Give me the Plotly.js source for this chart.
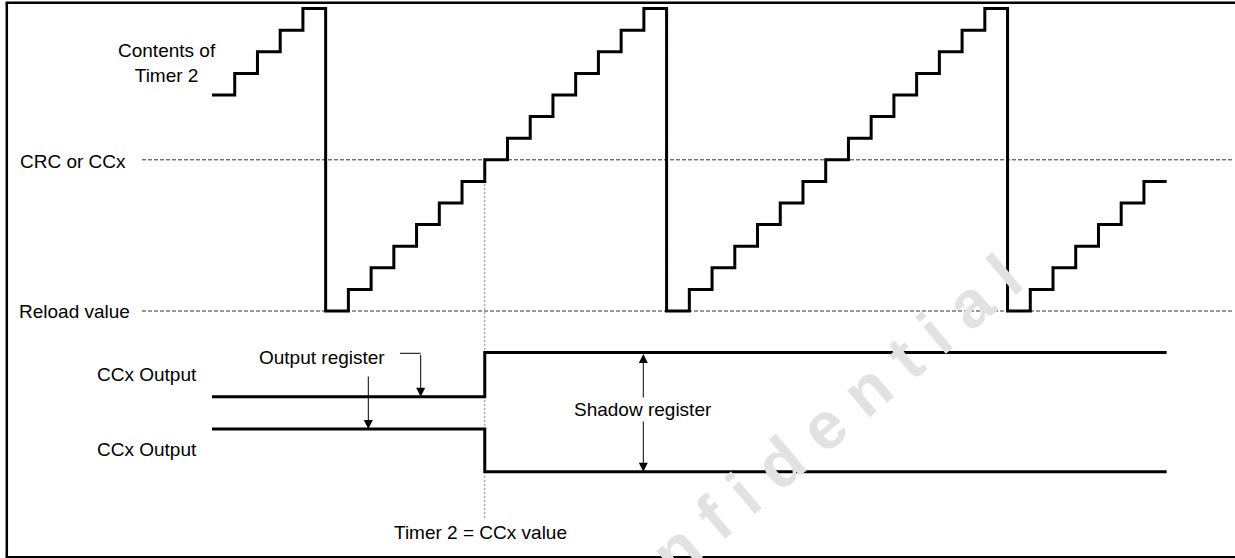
<!DOCTYPE html>
<html>
<head>
<meta charset="utf-8">
<script src="https://cdn.plot.ly/plotly-3.0.1.min.js"></script>
<style>
  html, body { margin: 0; padding: 0; background: #ffffff; }
  #chart { width: 1235px; height: 558px; }
</style>
</head>
<body>
<div id="chart"></div>
<script>
// ---------------- data ----------------
// Contents of Timer 2, one value per clock step (staircase)
const counterLevels = [10, 11, 12, 13, 14,
  0, 1, 2, 3, 4, 5, 6, 7, 8, 9, 10, 11, 12, 13, 14,
  0, 1, 2, 3, 4, 5, 6, 7, 8, 9, 10, 11, 12, 13, 14,
  0, 1, 2, 3, 4, 5, 6];
const counterSteps = [0, 1, 2, 3, 4, 5, 6, 7, 8, 9, 10, 11, 12, 13, 14, 15, 16, 17, 18, 19, 20,
  21, 22, 23, 24, 25, 26, 27, 28, 29, 30, 31, 32, 33, 34, 35, 36, 37, 38, 39, 40, 41, 42];
const crcLevel = 7;         // CRC or CCx compare value
const reloadLevel = 0;      // Reload value
const compareStep = 12;     // Timer 2 = CCx value

// CCx outputs (logic level over time)
const outputTimes = [0, 12, 12, 42];
const ccxOutputA = [0, 0, 1, 1];
const ccxOutputB = [1, 1, 0, 0];

// texts
const levelLabels = ["CRC or CCx", "Reload value"];
const signalLabels = ["CCx Output", "CCx Output"];
const counterLabel = "Contents of<br>Timer 2";
const outputRegLabel = "Output register";
const shadowRegLabel = "Shadow register";
const compareLabel = "Timer 2 = CCx value";
const watermark = "C o n f i d e n t i a l";

// ---------------- layout geometry ----------------
const W = 1235, H = 558;
const X0PX = 212, STEP_PX = 22.73;      // step 0 at pixel 212
const Y0PX = 311, LEVEL_PX = 21.6;      // level 0 at pixel 311
const xr = [(0 - X0PX) / STEP_PX, (W - X0PX) / STEP_PX];
const yr = [(Y0PX - H) / LEVEL_PX, Y0PX / LEVEL_PX];
function yFromPx(p) { return (Y0PX - p) / LEVEL_PX; }
function xFromPx(p) { return (p - X0PX) / STEP_PX; }
function sigRange(lowPx, highPx) {
  const u = lowPx - highPx;
  return [(lowPx - H) / u, lowPx / u];
}
const A_LOW = 396.7, A_HIGH = 352.5;
const B_LOW = 471.7, B_HIGH = 429;
function px(x) { return x / W; }
function py(y) { return 1 - y / H; }

const FONT = "Liberation Sans, Arial, sans-serif";
const FS = 19;

// counter staircase: last step held to the end
const cx = counterSteps.slice();
const cy = counterLevels.concat([counterLevels[counterLevels.length - 1]]);

const traces = [
  { x: cx, y: cy, type: "scatter", mode: "lines",
    line: { shape: "hv", color: "#000000", width: 3 }, hoverinfo: "skip" },
  { x: outputTimes, y: ccxOutputA, yaxis: "y2", type: "scatter", mode: "lines",
    line: { color: "#000000", width: 3 }, hoverinfo: "skip" },
  { x: outputTimes, y: ccxOutputB, yaxis: "y3", type: "scatter", mode: "lines",
    line: { color: "#000000", width: 3 }, hoverinfo: "skip" }
];

const frameLine = { color: "#000000", width: 2.5 };
const shapes = [
  // frame (top, left, bottom; right side runs off the picture)
  { type: "line", xref: "paper", yref: "paper", x0: px(5.6), x1: 1.01, y0: py(2.8), y1: py(2.8), line: frameLine },
  { type: "line", xref: "paper", yref: "paper", x0: px(6.8), x1: px(6.8), y0: py(2.8), y1: py(557.3), line: frameLine },
  { type: "line", xref: "paper", yref: "paper", x0: px(5.6), x1: 1.01, y0: py(557.3), y1: py(557.3), line: frameLine },
  // reference levels
  { type: "line", xref: "x", yref: "y", x0: xFromPx(142), x1: xFromPx(1232), y0: crcLevel, y1: crcLevel,
    line: { color: "#333333", width: 1, dash: "4px,2px" }, layer: "below" },
  { type: "line", xref: "x", yref: "y", x0: xFromPx(142), x1: xFromPx(1232), y0: reloadLevel, y1: reloadLevel,
    line: { color: "#333333", width: 1, dash: "4px,2px" }, layer: "below" },
  // compare moment
  { type: "line", xref: "x", yref: "y", x0: compareStep, x1: compareStep, y0: crcLevel, y1: yFromPx(520),
    line: { color: "#808080", width: 1, dash: "2px,2px" }, layer: "below" },
  // output register bracket
  { type: "line", xref: "x", yref: "y", x0: xFromPx(400), x1: xFromPx(420.7), y0: yFromPx(353.3), y1: yFromPx(353.3),
    line: { color: "#000000", width: 1 } }
];

const arrowBase = { xref: "x", yref: "y", axref: "x", ayref: "y", text: "", showarrow: true,
  arrowhead: 2, arrowsize: 1.8, arrowwidth: 1, arrowcolor: "#000000" };

const annotations = [
  // watermark
  { xref: "paper", yref: "paper", x: px(788), y: py(456), text: watermark, showarrow: false,
    textangle: -40, font: { family: FONT, size: 66, weight: "bold", color: "#e2e2e2" },
    xanchor: "center", yanchor: "middle" },
  // arrows
  Object.assign({}, arrowBase, { x: xFromPx(420.7), y: yFromPx(A_LOW), ax: xFromPx(420.7), ay: yFromPx(353.3) }),
  Object.assign({}, arrowBase, { x: xFromPx(368.3), y: yFromPx(B_HIGH), ax: xFromPx(368.3), ay: yFromPx(375) }),
  Object.assign({}, arrowBase, { x: xFromPx(643.3), y: yFromPx(B_LOW), ax: xFromPx(643.3), ay: yFromPx(A_HIGH),
    arrowside: "end+start" }),
  // texts
  { xref: "paper", yref: "paper", x: px(167), y: py(63), text: counterLabel, showarrow: false, align: "center",
    xanchor: "center", yanchor: "middle", font: { family: FONT, size: FS, color: "#000" } },
  { xref: "paper", yref: "paper", x: px(18), y: py(161), text: levelLabels[0], showarrow: false,
    xanchor: "left", yanchor: "middle", font: { family: FONT, size: FS, color: "#000" } },
  { xref: "paper", yref: "paper", x: px(17), y: py(311), text: levelLabels[1], showarrow: false,
    xanchor: "left", yanchor: "middle", font: { family: FONT, size: FS, color: "#000" } },
  { xref: "paper", yref: "paper", x: px(95), y: py(374), text: signalLabels[0], showarrow: false,
    xanchor: "left", yanchor: "middle", font: { family: FONT, size: FS, color: "#000" } },
  { xref: "paper", yref: "paper", x: px(95), y: py(449), text: signalLabels[1], showarrow: false,
    xanchor: "left", yanchor: "middle", font: { family: FONT, size: FS, color: "#000" } },
  { xref: "paper", yref: "paper", x: px(257), y: py(358), text: outputRegLabel, showarrow: false,
    xanchor: "left", yanchor: "middle", font: { family: FONT, size: FS, color: "#000" } },
  { xref: "paper", yref: "paper", x: px(643), y: py(409), text: shadowRegLabel, showarrow: false,
    xanchor: "center", yanchor: "middle", bgcolor: "#ffffff", borderpad: 1,
    font: { family: FONT, size: FS, color: "#000" } },
  { xref: "paper", yref: "paper", x: px(480), y: py(532), text: compareLabel, showarrow: false,
    xanchor: "center", yanchor: "middle", font: { family: FONT, size: FS, color: "#000" } }
];

const layout = {
  width: W, height: H,
  margin: { l: 0, r: 0, t: 0, b: 0, pad: 0 },
  paper_bgcolor: "#ffffff", plot_bgcolor: "#ffffff",
  showlegend: false,
  xaxis: { range: xr, visible: false, fixedrange: true },
  yaxis: { range: yr, visible: false, fixedrange: true },
  yaxis2: { range: sigRange(A_LOW, A_HIGH), overlaying: "y", visible: false, fixedrange: true },
  yaxis3: { range: sigRange(B_LOW, B_HIGH), overlaying: "y", visible: false, fixedrange: true },
  shapes: shapes,
  annotations: annotations
};

Plotly.newPlot("chart", traces, layout, { staticPlot: true, displayModeBar: false });
</script>
</body>
</html>
